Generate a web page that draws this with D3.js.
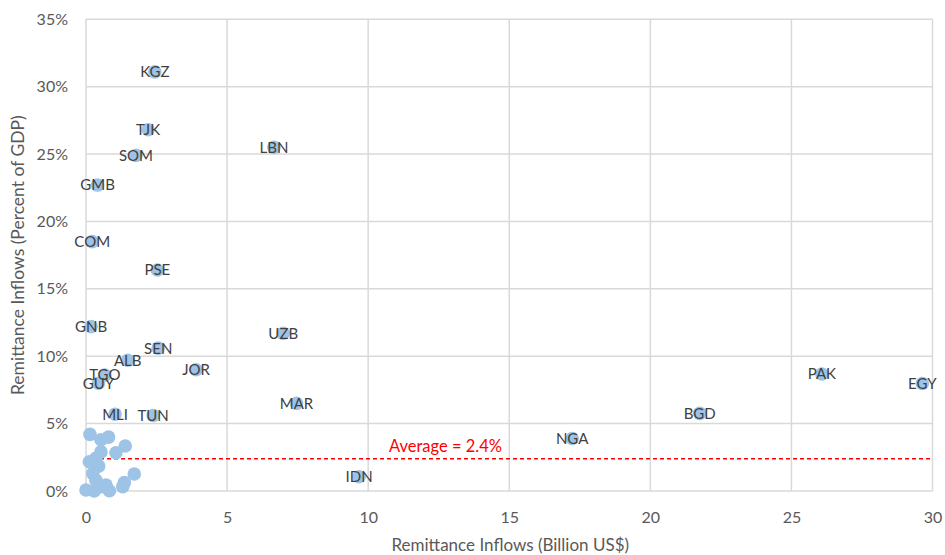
<!DOCTYPE html>
<html>
<head>
<meta charset="utf-8">
<script src="https://cdn.jsdelivr.net/npm/d3@7"></script>
<style>
  body { margin: 0; background: #fff; }
  svg { display: block; }
  text { font-family: Lato, "Open Sans", sans-serif; }
</style>
</head>
<body>
<svg id="chart" width="945" height="555"></svg>
<script>
// Labeled countries
const labels = ["KGZ","TJK","SOM","LBN","GMB","COM","PSE","GNB","SEN","ALB","TGO","GUY","JOR","MLI","TUN","UZB","MAR","IDN","NGA","BGD","PAK","EGY"];
const labelX = [2.44,2.2,1.77,6.66,0.41,0.22,2.53,0.18,2.56,1.48,0.67,0.44,3.9,1.03,2.38,6.99,7.46,9.68,17.23,21.75,26.08,29.64];
const labelY = [31.1,26.8,24.9,25.5,22.7,18.5,16.4,12.2,10.6,9.7,8.6,8.0,9.0,5.7,5.6,11.7,6.5,1.06,3.9,5.76,8.68,7.98];
// Unlabeled countries (cluster near origin)
const otherX = [0.14,0.53,0.8,1.06,1.39,0.53,0.12,0.35,0.45,0.24,0.35,1.71,1.36,0.0,0.29,0.71,0.83,1.3,0.59];
const otherY = [4.2,3.8,4.0,2.84,3.34,2.9,2.17,2.42,1.85,1.3,0.8,1.26,0.62,0.07,0.0,0.45,0.02,0.32,0.32];
// Average
const average = 2.4;
const averageLabel = "Average = 2.4%";
// Ticks
const xTicks = [0,5,10,15,20,25,30];
const yTicks = [0,5,10,15,20,25,30,35];
const xTitle = "Remittance Inflows (Billion US$)";
const yTitle = "Remittance Inflows (Percent of GDP)";

const svg = d3.select("#chart");
const m = {left: 86, right: 12.5, top: 19.3, bottom: 64};
const W = 945, H = 555;
const x = d3.scaleLinear().domain([0,30]).range([m.left, W - m.right]);
const y = d3.scaleLinear().domain([0,35]).range([H - m.bottom, m.top]);

// gridlines
const g = svg.append("g");
g.selectAll(".vg").data(xTicks).join("line")
  .attr("x1", d => x(d)).attr("x2", d => x(d))
  .attr("y1", y(0)).attr("y2", y(35))
  .attr("stroke", "#d9d9d9").attr("stroke-width", 1.5);
g.selectAll(".hg").data(yTicks).join("line")
  .attr("x1", x(0)).attr("x2", x(30))
  .attr("y1", d => y(d)).attr("y2", d => y(d))
  .attr("stroke", "#d9d9d9").attr("stroke-width", 1.5);

// axes (labels only)
const xAxis = svg.append("g").attr("transform", `translate(0,${y(0)})`)
  .call(d3.axisBottom(x).tickValues(xTicks).tickSize(0).tickPadding(21).tickFormat(d3.format("d")));
xAxis.select(".domain").remove();
xAxis.selectAll("text").attr("fill", "#595959").style("font-size", "16px").style("font-family", "Lato, sans-serif");

const yAxis = svg.append("g").attr("transform", `translate(${x(0)},0)`)
  .call(d3.axisLeft(y).tickValues(yTicks).tickSize(0).tickPadding(18).tickFormat(d => d + "%"));
yAxis.select(".domain").remove();
yAxis.selectAll("text").attr("fill", "#595959").style("font-size", "16px").style("font-family", "Lato, sans-serif");

// average line
svg.append("line")
  .attr("x1", x(0)).attr("x2", x(30))
  .attr("y1", y(average)).attr("y2", y(average))
  .attr("stroke", "#ff0000").attr("stroke-width", 1.5)
  .attr("stroke-dasharray", "4,3");

// points
const others = otherX.map((v,i) => ({x: v, y: otherY[i]}));
const named = labels.map((l,i) => ({name: l, x: labelX[i], y: labelY[i]}));
svg.append("g").selectAll("circle").data(others.concat(named)).join("circle")
  .attr("cx", d => x(d.x)).attr("cy", d => y(d.y)).attr("r", 6.8)
  .attr("fill", "#9dc3e6");

// labels
svg.append("g").selectAll("text").data(named).join("text")
  .attr("x", d => x(d.x)).attr("y", d => y(d.y))
  .attr("text-anchor", "middle").attr("dy", "0.36em")
  .attr("fill", "#404040").style("font-size", "15px")
  .text(d => d.name);

// average label
svg.append("text")
  .attr("x", x(12.74)).attr("y", y(average) - 7)
  .attr("text-anchor", "middle")
  .attr("fill", "#ff0000").style("font-size", "16.5px")
  .text(averageLabel);

// axis titles
svg.append("text")
  .attr("x", (x(0) + x(30)) / 2 + 1).attr("y", 551)
  .attr("text-anchor", "middle").attr("fill", "#595959").style("font-size", "17px")
  .text(xTitle);
svg.append("text")
  .attr("transform", `translate(24,${(y(0)+y(35))/2}) rotate(-90)`)
  .attr("text-anchor", "middle").attr("fill", "#595959").style("font-size", "17.5px")
  .text(yTitle);
</script>
</body>
</html>
